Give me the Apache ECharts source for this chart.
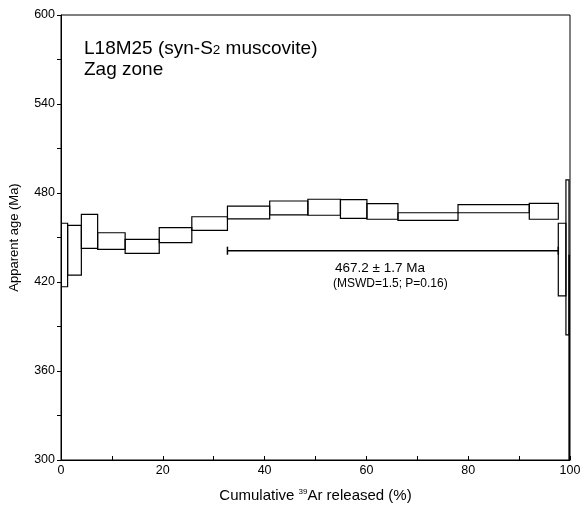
<!DOCTYPE html>
<html>
<head>
<meta charset="utf-8">
<script src="https://cdn.jsdelivr.net/npm/echarts@6/dist/echarts.min.js"></script>
<style>
  html, body { margin: 0; padding: 0; background: #fff; }
  #chart { width: 581px; height: 506px; }
</style>
</head>
<body>
<div id="chart"></div>
<script>
// cumulative 39Ar edges (%) for each heating step
const stepEdges = [0, 1.3, 4.0, 7.2, 12.6, 19.3, 25.7, 32.7, 41.0, 48.5, 54.9, 60.1, 66.2, 78.0, 92.0, 97.7, 99.2, 99.8, 100]
// apparent age upper / lower bounds (Ma)
const ageHigh = [459.6, 458.2, 465.6, 453.2, 448.8, 456.6, 464.0, 471.2, 474.6, 475.8, 475.5, 472.8, 466.7, 472.1, 473.0, 459.6, 488.8, 438.0]
const ageLow = [416.8, 424.7, 442.7, 442.0, 439.3, 446.5, 454.8, 462.5, 465.2, 465.0, 462.9, 462.3, 461.6, 466.7, 462.3, 410.6, 384.3, 250.0]

// plateau bar
const plateauFrom = 32.7
const plateauTo = 97.7
const plateauLevel = 441.1

const xTicks = [0, 20, 40, 60, 80, 100]
const yTicks = [300, 360, 420, 480, 540, 600]

const font = 'Liberation Sans, Arial, sans-serif'

const steps = ageHigh.map((hi, i) => [stepEdges[i], stepEdges[i + 1], hi, ageLow[i]])

const chart = echarts.init(document.getElementById('chart'), null, { renderer: 'canvas' })

chart.setOption({
  backgroundColor: '#fff',
  animation: false,
  textStyle: { fontFamily: font, color: '#000' },
  grid: {
    left: 61,
    right: 11,
    top: 15,
    bottom: 46,
    outerBoundsMode: 'none',
    show: true,
    borderColor: '#000',
    borderWidth: 1
  },
  xAxis: {
    type: 'value',
    min: xTicks[0],
    max: xTicks[xTicks.length - 1],
    interval: 20,
    name: '{t|Cumulative }{s|39}{t|Ar released (%)}',
    nameLocation: 'middle',
    nameGap: 28,
    nameTextStyle: {
      rich: {
        t: { fontSize: 15, fontFamily: font, color: '#000' },
        s: { fontSize: 8, fontFamily: font, color: '#000', padding: [0, 0, 8, 0] }
      }
    },
    axisLine: { lineStyle: { color: '#000', width: 1 } },
    axisTick: { inside: true, length: 4, lineStyle: { color: '#000' } },
    minorTick: { show: true, splitNumber: 2, length: 4, lineStyle: { color: '#000' } },
    axisLabel: { color: '#000', fontSize: 12.5, margin: 4, fontFamily: font },
    splitLine: { show: false }
  },
  yAxis: {
    type: 'value',
    min: yTicks[0],
    max: yTicks[yTicks.length - 1],
    interval: 60,
    name: 'Apparent age (Ma)',
    nameLocation: 'middle',
    nameGap: 40,
    nameTextStyle: { fontSize: 13, color: '#000', fontFamily: font },
    axisLine: { show: true, lineStyle: { color: '#000', width: 1 } },
    axisTick: { show: true, length: 4, lineStyle: { color: '#000' } },
    minorTick: { show: true, splitNumber: 2, length: 4, lineStyle: { color: '#000' } },
    axisLabel: { color: '#000', fontSize: 12.5, margin: 6, fontFamily: font },
    splitLine: { show: false }
  },
  series: [
    {
      // age spectrum boxes
      type: 'custom',
      data: steps,
      clip: true,
      renderItem(params, api) {
        const p0 = api.coord([api.value(0), api.value(2)])
        const p1 = api.coord([api.value(1), api.value(3)])
        const shape = echarts.graphic.clipRectByRect(
          { x: p0[0], y: p0[1], width: p1[0] - p0[0], height: p1[1] - p0[1] },
          params.coordSys
        )
        return shape && {
          type: 'rect',
          shape,
          style: { fill: 'none', stroke: '#000', lineWidth: 1.2 }
        }
      }
    },
    {
      // plateau bar with end caps
      type: 'custom',
      data: [[plateauFrom, plateauTo, plateauLevel]],
      renderItem(params, api) {
        const a = api.coord([api.value(0), api.value(2)])
        const b = api.coord([api.value(1), api.value(2)])
        const st = { stroke: '#000', lineWidth: 1.5 }
        return {
          type: 'group',
          children: [
            { type: 'line', shape: { x1: a[0], y1: a[1], x2: b[0], y2: b[1] }, style: st },
            { type: 'line', shape: { x1: a[0], y1: a[1] - 4, x2: a[0], y2: a[1] + 4 }, style: st },
            { type: 'line', shape: { x1: b[0], y1: b[1] - 4, x2: b[0], y2: b[1] + 4 }, style: st }
          ]
        }
      }
    }
  ],
  graphic: [
    {
      type: 'text',
      left: 84,
      top: 38,
      style: {
        text: '{t|L18M25 (syn-S}{s|2}{t| muscovite)}\n{t|Zag zone}',
        lineHeight: 21,
        rich: {
          t: { fontSize: 19, fontFamily: font, fill: '#000', lineHeight: 21 },
          s: { fontSize: 13.5, fontFamily: font, fill: '#000', lineHeight: 21, padding: [4, 0, 0, 0] }
        }
      }
    },
    {
      type: 'text',
      left: 335,
      top: 261,
      style: { text: '467.2 ± 1.7 Ma', fontSize: 13.5, fontFamily: font, fill: '#000' }
    },
    {
      type: 'text',
      left: 333,
      top: 278,
      style: { text: '(MSWD=1.5; P=0.16)', fontSize: 12, fontFamily: font, fill: '#000' }
    }
  ]
})
</script>
</body>
</html>
